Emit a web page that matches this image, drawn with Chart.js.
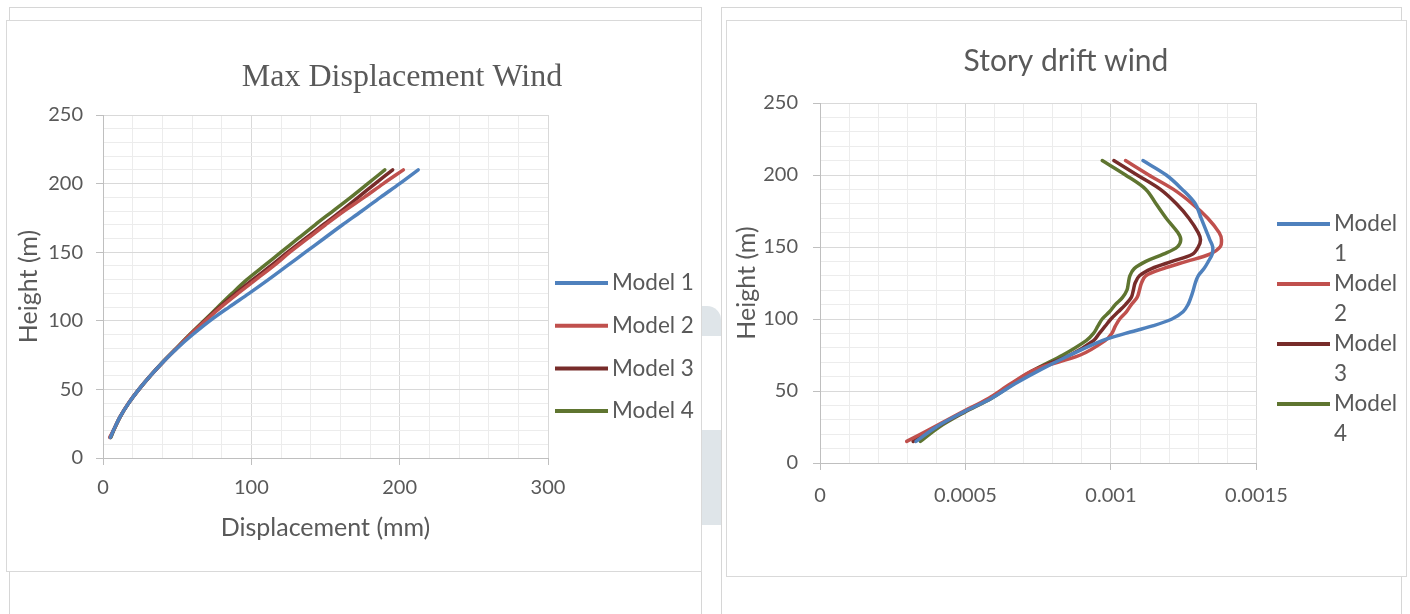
<!DOCTYPE html>
<html>
<head>
<meta charset="utf-8">
<script src="https://cdn.jsdelivr.net/npm/chart.js@4.4.1/dist/chart.umd.min.js"></script>
<style>
  html, body { margin: 0; padding: 0; background: #fff; }
  body { width: 1410px; height: 614px; position: relative; overflow: hidden; }
  .ln { position: absolute; background: #d6d6d6; }
  .box { position: absolute; border: 1px solid #d9d9d9; box-sizing: border-box; }
  .wm { position: absolute; background: #dfe5e9; }
  canvas { position: absolute; top: 0; }
</style>
</head>
<body>
<!-- page frame lines -->
<div class="ln" style="left:9px;top:7px;width:692px;height:1px"></div>
<div class="ln" style="left:9px;top:7px;width:1px;height:14px"></div>
<div class="ln" style="left:9px;top:571px;width:1px;height:43px"></div>
<div class="ln" style="left:701px;top:7px;width:1px;height:607px"></div>
<div class="ln" style="left:721px;top:7px;width:680px;height:1px"></div>
<div class="ln" style="left:721px;top:7px;width:1px;height:607px"></div>
<div class="ln" style="left:1401px;top:7px;width:1px;height:14px"></div>
<div class="ln" style="left:1401px;top:576px;width:1px;height:38px"></div>
<div class="box" style="left:6px;top:20px;width:696px;height:552px"></div>
<div class="box" style="left:726px;top:20px;width:681px;height:557px"></div>
<div class="wm" style="left:702px;top:306px;width:19px;height:30px;border-radius:0 14px 0 0"></div>
<div class="wm" style="left:702px;top:430px;width:19px;height:95px"></div>

<canvas id="dispChart" width="705" height="614" style="left:0"></canvas>
<canvas id="driftChart" width="705" height="614" style="left:705px"></canvas>

<script>
// ---- data ----
const modelNames = ['Model 1', 'Model 2', 'Model 3', 'Model 4'];
const modelColors = ['#4f81bd', '#c0504d', '#772c2a', '#5f7530'];

// Max displacement (mm) vs height (m)
const dispHeights = [15, 20, 30, 40, 50, 60, 70, 80, 90, 100, 110, 120, 130, 140, 150, 160, 170, 180, 190, 200, 210];
const dispModel1 = [5, 7, 11.5, 17.3, 24.2, 32, 40.5, 50, 60.5, 72, 85, 98.5, 111.5, 124, 136.5, 149, 161.5, 174.5, 187, 200, 212.5];
const dispModel2 = [4.5, 7, 11.5, 17.2, 24.2, 32, 40.5, 49.7, 59, 69, 79.5, 91, 103, 115, 126, 138, 150, 162.5, 176, 189, 202.5];
const dispModel3 = [5, 7, 11.5, 17.3, 24.2, 32, 40.5, 49.6, 58.8, 68.5, 78.5, 89.5, 101, 113, 124.5, 136.5, 148.5, 160.5, 172, 183.5, 195.3];
const dispModel4 = [5.3, 7.2, 11.6, 17.3, 24.2, 32, 40.3, 49.5, 58.5, 68, 77.5, 87, 97, 108.5, 120, 131.5, 143, 155, 167, 178.5, 190];

// Story drift vs height (m)
const driftHeights = [15, 25, 35, 45, 55, 65, 75, 85, 90, 95, 100, 105, 110, 115, 120, 125, 130, 135, 140, 145, 150, 155, 160, 170, 180, 190, 200, 210];
const driftModel1 = [0.00033, 0.0004, 0.00049, 0.00059, 0.00067, 0.00076, 0.00086, 0.00097, 0.00105, 0.00114, 0.00121, 0.001248, 0.001265, 0.001275, 0.001283, 0.00129, 0.0013, 0.00132, 0.001335, 0.001348, 0.00135, 0.00134, 0.00133, 0.00131, 0.00129, 0.001245, 0.00119, 0.00111];
const driftModel2 = [0.000298, 0.000392, 0.000485, 0.00058, 0.000655, 0.00074, 0.000895, 0.00098, 0.001003, 0.001015, 0.00103, 0.001053, 0.00107, 0.00109, 0.001098, 0.001105, 0.00112, 0.00118, 0.00126, 0.00134, 0.001375, 0.00138, 0.001372, 0.001333, 0.00128, 0.001215, 0.00113, 0.00105];
const driftModel3 = [0.00032, 0.0004, 0.00049, 0.000585, 0.00066, 0.00074, 0.00086, 0.00094, 0.00096, 0.00098, 0.001, 0.001025, 0.00105, 0.00107, 0.001077, 0.001083, 0.001098, 0.00114, 0.00121, 0.00128, 0.0013, 0.001308, 0.0013, 0.001268, 0.001225, 0.00117, 0.00109, 0.00101];
const driftModel4 = [0.000345, 0.00041, 0.000495, 0.00059, 0.000665, 0.00074, 0.000835, 0.000915, 0.00094, 0.000955, 0.00097, 0.000995, 0.001015, 0.00104, 0.001055, 0.00106, 0.001065, 0.00108, 0.00112, 0.00118, 0.001228, 0.00124, 0.00123, 0.00119, 0.001155, 0.00112, 0.00105, 0.00097];

const TEXT = '#595959';
const MAJOR = '#d9d9d9';
const MINOR = '#ececec';
const AXIS = '#bfbfbf';
const SANS = 'Lato';

function makeDatasets(seriesList, heights) {
    return seriesList.map((vals, i) => ({
        label: modelNames[i],
        data: vals.map((v, j) => ({ x: v, y: heights[j] })),
        borderColor: modelColors[i],
        backgroundColor: modelColors[i],
        borderWidth: 3.5,
        pointRadius: 0,
        showLine: true,
        tension: 0.35,
        borderCapStyle: 'round'
    }));
}

function isMajor(v, major) {
    return Math.abs(v / major - Math.round(v / major)) < 1e-6;
}

// title + legend drawn at fixed places, like the Excel layout
const decor = {
    id: 'decor',
    afterDraw(chart, args, o) {
        const ctx = chart.ctx;
        ctx.save();
        ctx.fillStyle = TEXT;
        ctx.textAlign = 'center';
        ctx.textBaseline = 'middle';
        ctx.font = o.titleFont;
        ctx.fillText(o.title, o.titleX, o.titleY);

        ctx.textAlign = 'left';
        ctx.font = o.legendFont;
        chart.data.datasets.forEach((ds, i) => {
            const y = o.legendY + i * o.legendGap;
            ctx.strokeStyle = ds.borderColor;
            ctx.lineWidth = 4;
            ctx.beginPath();
            ctx.moveTo(o.legendX, y);
            ctx.lineTo(o.legendX + 53, y);
            ctx.stroke();
            const lines = o.wrap ? ds.label.split(' ') : [ds.label];
            lines.forEach((t, k) => ctx.fillText(t, o.legendX + 57, y + k * o.lineGap));
        });
        ctx.restore();
    }
};

function axis(opts) {
    return {
        type: 'linear',
        min: opts.min,
        max: opts.max,
        ticks: {
            stepSize: opts.step,
            autoSkip: false,
            maxRotation: 0,
            padding: opts.pad,
            color: TEXT,
            font: { family: SANS, size: 20 },
            callback: v => isMajor(v, opts.major) ? opts.fmt(v) : ''
        },
        grid: {
            color: c => isMajor(c.tick.value, opts.major) ? MAJOR : MINOR,
            tickColor: c => isMajor(c.tick.value, opts.major) ? AXIS : 'rgba(0,0,0,0)',
            tickLength: 7,
            lineWidth: 1
        },
        border: { color: AXIS },
        title: opts.title ? {
            display: true,
            text: opts.title,
            color: TEXT,
            font: { family: SANS, size: 25 },
            padding: opts.titlePad
        } : { display: false },
        afterFit: opts.fit
    };
}

new Chart(document.getElementById('dispChart'), {
    type: 'scatter',
    data: { datasets: makeDatasets([dispModel1, dispModel2, dispModel3, dispModel4], dispHeights) },
    options: {
        responsive: false,
        animation: false,
        layout: { padding: { left: 0, right: 157, top: 115, bottom: 56 } },
        plugins: {
            legend: { display: false },
            tooltip: { enabled: false },
            decor: {
                title: 'Max Displacement Wind',
                titleFont: '32px "Liberation Serif"',
                titleX: 402, titleY: 78,
                legendFont: '22.5px ' + SANS,
                legendX: 555, legendY: 283, legendGap: 42.7, wrap: false, lineGap: 0
            }
        },
        scales: {
            x: axis({ min: 0, max: 300, step: 20, major: 100, pad: 11, fmt: v => String(v),
                title: 'Displacement (mm)', titlePad: { top: 0, bottom: 15 },
                fit: s => { s.height = 100; } }),
            y: axis({ min: 0, max: 250, step: 10, major: 50, pad: 13, fmt: v => String(v),
                title: 'Height (m)', titlePad: { top: 14, bottom: 0 },
                fit: s => { s.width = 103; } })
        }
    },
    plugins: [decor]
});

new Chart(document.getElementById('driftChart'), {
    type: 'scatter',
    data: { datasets: makeDatasets([driftModel1, driftModel2, driftModel3, driftModel4], driftHeights) },
    options: {
        responsive: false,
        animation: false,
        layout: { padding: { left: 0, right: 153.6, top: 103, bottom: 51 } },
        plugins: {
            legend: { display: false },
            tooltip: { enabled: false },
            decor: {
                title: 'Story drift wind',
                titleFont: '30px ' + SANS,
                titleX: 361, titleY: 61,
                legendFont: '22.5px ' + SANS,
                legendX: 572, legendY: 224, legendGap: 60, wrap: true, lineGap: 30
            }
        },
        scales: {
            x: axis({ min: 0, max: 0.0015, step: 0.0001, major: 0.0005, pad: 14,
                fmt: v => String(Number(v.toFixed(4))),
                fit: s => { s.height = 100; } }),
            y: axis({ min: 0, max: 250, step: 10, major: 50, pad: 15, fmt: v => String(v),
                title: 'Height (m)', titlePad: { top: 27, bottom: 0 },
                fit: s => { s.width = 115; } })
        }
    },
    plugins: [decor]
});
</script>
</body>
</html>
